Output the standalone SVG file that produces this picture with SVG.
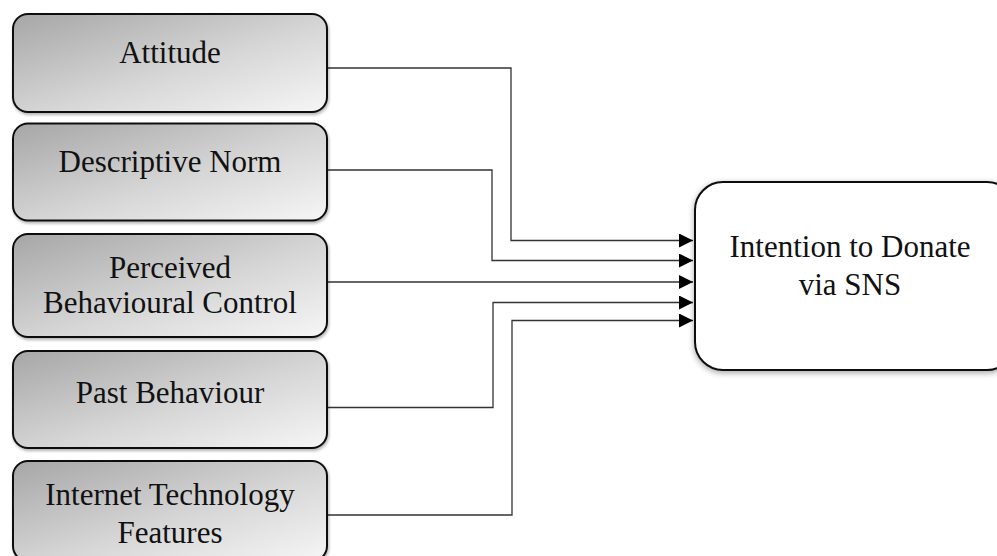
<svg xmlns="http://www.w3.org/2000/svg" width="997" height="556" viewBox="0 0 997 556">
<style>
.src{stroke:#111;stroke-width:2;}
.lbl{font-family:"Liberation Serif","Times New Roman",serif;font-size:31px;fill:#111;text-anchor:middle;}
.con{fill:none;stroke:#333;stroke-width:1.3;}
</style>
<defs>
<linearGradient id="g" x1="0" y1="0" x2="1" y2="1">
<stop offset="0" stop-color="#a6a6a6"/>
<stop offset="0.55" stop-color="#d6d6d6"/>
<stop offset="1" stop-color="#f6f6f6"/>
</linearGradient>
<filter id="sh" x="-10%" y="-10%" width="120%" height="125%">
<feGaussianBlur in="SourceAlpha" stdDeviation="3"/>
<feOffset dx="0" dy="2"/>
<feComponentTransfer><feFuncA type="linear" slope="0.35"/></feComponentTransfer>
<feMerge><feMergeNode/><feMergeNode in="SourceGraphic"/></feMerge>
</filter>
<filter id="sh2" x="-5%" y="-10%" width="110%" height="125%">
<feGaussianBlur in="SourceAlpha" stdDeviation="1.5"/>
<feOffset dx="1" dy="1.5"/>
<feComponentTransfer><feFuncA type="linear" slope="0.3"/></feComponentTransfer>
<feMerge><feMergeNode/><feMergeNode in="SourceGraphic"/></feMerge>
</filter>
<marker id="ah" markerWidth="14" markerHeight="14" refX="14" refY="7" orient="auto" markerUnits="userSpaceOnUse">
<path d="M0,0 L14,7 L0,14 Z" fill="#000"/>
</marker>
</defs>
<rect width="997" height="556" fill="#fff"/>
<g id="connectors">
<path class="con" d="M327,68 H511 V240.5 H693" marker-end="url(#ah)"/>
<path class="con" d="M327,170 H492 V260.5 H693" marker-end="url(#ah)"/>
<path class="con" d="M327,282 H693" marker-end="url(#ah)"/>
<path class="con" d="M327,407.5 H493 V302.5 H693" marker-end="url(#ah)"/>
<path class="con" d="M327,515 H512 V320.5 H693" marker-end="url(#ah)"/>
</g>
<g id="attitude">
<rect class="src" x="13" y="14" width="314" height="98" rx="15" fill="url(#g)" filter="url(#sh2)"/>
<text class="lbl" x="170" y="63">Attitude</text>
</g>
<g id="descriptive-norm">
<rect class="src" x="13" y="123.5" width="314" height="97" rx="15" fill="url(#g)" filter="url(#sh2)"/>
<text class="lbl" x="170" y="171.5">Descriptive Norm</text>
</g>
<g id="pbc">
<rect class="src" x="13" y="234" width="314" height="103" rx="15" fill="url(#g)" filter="url(#sh2)"/>
<text class="lbl" x="170" y="277.5">Perceived</text>
<text class="lbl" x="170" y="313">Behavioural Control</text>
</g>
<g id="past-behaviour">
<rect class="src" x="13" y="351" width="314" height="97" rx="15" fill="url(#g)" filter="url(#sh2)"/>
<text class="lbl" x="170" y="402.5">Past Behaviour</text>
</g>
<g id="internet-tech">
<rect class="src" x="13" y="461" width="314" height="100" rx="15" fill="url(#g)" filter="url(#sh2)"/>
<text class="lbl" x="170" y="505">Internet Technology</text>
<text class="lbl" x="170" y="543">Features</text>
</g>
<g id="intention">
<rect x="695" y="182" width="320" height="188" rx="28" fill="#fff" stroke="#111" stroke-width="2" filter="url(#sh)"/>
<text class="lbl" x="850" y="257">Intention to Donate</text>
<text class="lbl" x="850" y="295">via SNS</text>
</g>
</svg>
